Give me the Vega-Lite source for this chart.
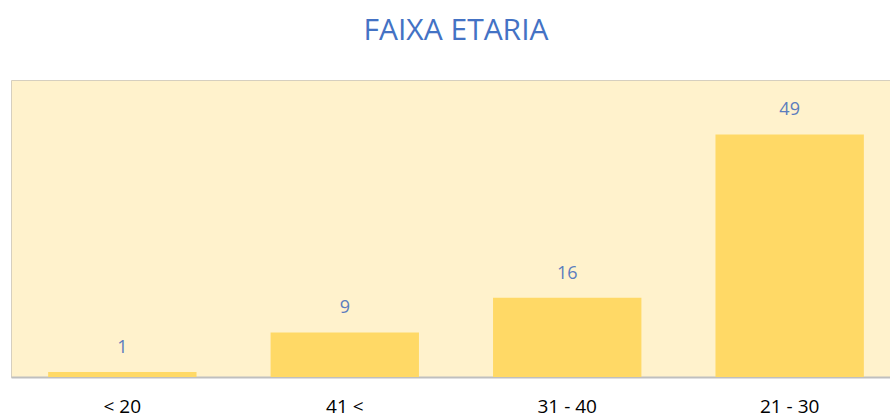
{
  "$schema": "https://vega.github.io/schema/vega-lite/v6.json",
  "autosize": {"type": "none"},
  "width": 890,
  "height": 297,
  "padding": {"left": 11, "top": 80, "right": 0, "bottom": 40},
  "background": "#FFFFFF",
  "title": {
    "text": "FAIXA ETARIA",
    "font": "Open Sans",
    "fontSize": 30,
    "fontWeight": "normal",
    "color": "#4472C4",
    "anchor": "middle",
    "offset": 34
  },
  "config": {
    "view": {"fill": "#FFF2CC", "stroke": "#D6CFBF", "strokeWidth": 1}
  },
  "data": {
    "values": [
      {"faixa": "< 20", "valor": 1},
      {"faixa": "41 <", "valor": 9},
      {"faixa": "31 - 40", "valor": 16},
      {"faixa": "21 - 30", "valor": 49}
    ]
  },
  "encoding": {
    "x": {
      "field": "faixa",
      "type": "nominal",
      "sort": null,
      "scale": {"paddingInner": 0.333, "paddingOuter": 0.167},
      "axis": {
        "title": null,
        "labelAngle": 0,
        "ticks": false,
        "domainColor": "#BFBFBF",
        "domainWidth": 2,
        "labelFont": "Open Sans",
        "labelFontSize": 19,
        "labelColor": "#000000",
        "labelPadding": 20
      }
    },
    "y": {
      "field": "valor",
      "type": "quantitative",
      "scale": {"domain": [0, 60], "nice": false},
      "axis": null
    }
  },
  "layer": [
    {"mark": {"type": "bar", "color": "#FFD966"}},
    {
      "mark": {
        "type": "text",
        "dy": -24,
        "font": "Open Sans",
        "fontSize": 18,
        "color": "#5B7DBE"
      },
      "encoding": {"text": {"field": "valor", "type": "quantitative"}}
    }
  ]
}
